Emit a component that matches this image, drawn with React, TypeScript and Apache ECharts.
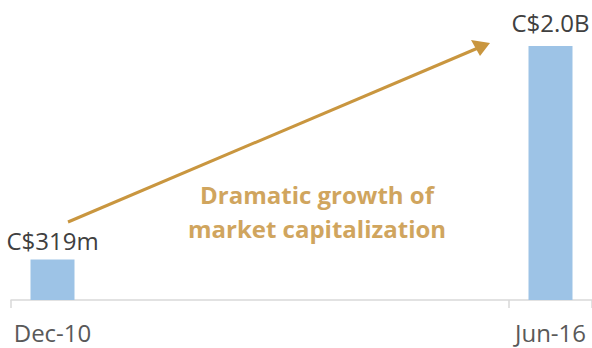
import React, { useEffect, useRef } from "react";
import * as echarts from "echarts";

const categories = ["Dec-10", "Dec-11", "Dec-12", "Dec-13", "Dec-14", "Dec-15", "Jun-16"];
const marketCap = [319, null, null, null, null, null, 2000];
const valueLabels = ["C$319m", "", "", "", "", "", "C$2.0B"];
const shownTicks = [0, 6];
const annotation = ["Dramatic growth of", "market capitalization"];

export default function App() {
  const ref = useRef<HTMLDivElement>(null);
  useEffect(() => {
    if (!ref.current) return;
    const chart = echarts.init(ref.current, null, { renderer: "svg" });
    const font = "'Open Sans', sans-serif";
    chart.setOption({
      animation: false,
      grid: { left: 11, top: 46, bottom: 48, width: 583 },
      xAxis: {
        type: "category",
        data: categories,
        boundaryGap: true,
        axisLine: { lineStyle: { color: "#d9d9d9", width: 1.5 } },
        axisTick: { show: true, length: 8, lineStyle: { color: "#d9d9d9", width: 1.5 } },
        axisLabel: {
          interval: (i: number) => shownTicks.includes(i),
          color: "#595959",
          fontSize: 24,
          fontFamily: font,
          margin: 20,
        },
      },
      yAxis: { type: "value", min: 0, max: 2000, show: false },
      series: [
        {
          type: "bar",
          data: marketCap.map((v, i) => ({
            value: v,
            label: { distance: i === 0 ? 7 : 12 },
          })),
          barWidth: 44,
          itemStyle: { color: "#9dc3e6" },
          label: {
            show: true,
            position: "top",
            color: "#404040",
            fontSize: 24,
            fontFamily: font,
            formatter: (p: any) => valueLabels[p.dataIndex],
          },
        },
      ],
      graphic: [
        {
          type: "line",
          shape: { x1: 68, y1: 222, x2: 478, y2: 48 },
          style: { stroke: "#c9963f", lineWidth: 3 },
        },
        {
          type: "polygon",
          shape: { points: [[490, 43], [471, 40], [480, 56]] },
          style: { fill: "#c9963f" },
        },
        {
          type: "text",
          x: 317,
          y: 211,
          style: {
            text: annotation.join("\n"),
            fill: "#d0a55e",
            font: `bold 24px ${font}`,
            lineHeight: 34,
            align: "center",
            verticalAlign: "middle",
          },
        },
      ],
    });
    return () => chart.dispose();
  }, []);
  return <div ref={ref} style={{ width: 592, height: 348, position: "absolute", left: 0, top: 0 }} />;
}
